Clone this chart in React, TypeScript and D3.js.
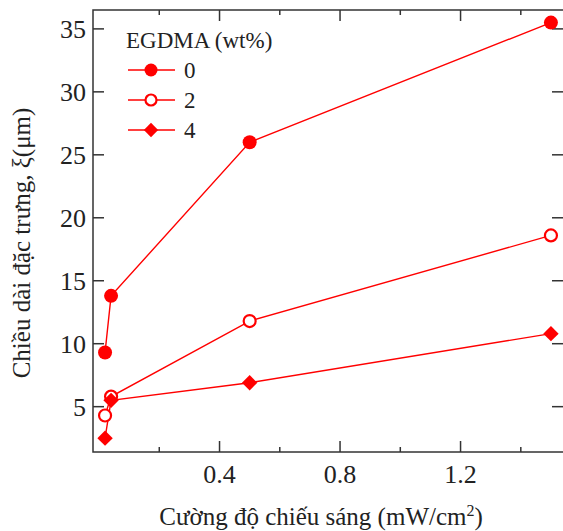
import React, { useRef, useEffect } from "react";
import * as d3 from "d3";

// light intensity (mW/cm2)
const intensity = [0.02, 0.04, 0.5, 1.5];
// correlation length xi (um) per EGDMA content
const egdma0 = [9.3, 13.8, 26.0, 35.5];
const egdma2 = [4.3, 5.8, 11.8, 18.6];
const egdma4 = [2.5, 5.5, 6.9, 10.8];
const seriesNames = ["0", "2", "4"];
const xMajorTicks = [0.4, 0.8, 1.2];
const xMinorTicks = [0.2, 0.6, 1.0, 1.4];
const yTicks = [5, 10, 15, 20, 25, 30, 35];

const RED = "#ff0000";
const AXIS = "#333";
const FONT = "Liberation Serif";

const App = () => {
  const svgRef = useRef(null);

  const drawChart = () => {
    const width = 563;
    const height = 531;
    const left = 93;
    const right = 566;
    const top = 10;
    const bottom = 452;

    const svg = d3.select(svgRef.current);
    svg.selectAll("*").remove();
    svg.attr("width", width).attr("height", height).attr("font-family", FONT);

    const x = d3.scaleLinear().domain([-0.02, 1.55]).range([left, right]);
    const y = d3.scaleLinear().domain([1.4, 36.5]).range([bottom, top]);

    /* frame */
    svg
      .append("rect")
      .attr("x", left)
      .attr("y", top)
      .attr("width", right - left)
      .attr("height", bottom - top)
      .attr("fill", "none")
      .attr("stroke", AXIS)
      .attr("stroke-width", 1.5);

    /* x ticks, bottom and top */
    const xt = svg.append("g").attr("stroke", AXIS).attr("stroke-width", 1.5);
    xMajorTicks.forEach((t) => {
      xt.append("line").attr("x1", x(t)).attr("x2", x(t)).attr("y1", bottom).attr("y2", bottom - 11);
      xt.append("line").attr("x1", x(t)).attr("x2", x(t)).attr("y1", top).attr("y2", top + 11);
    });
    xMinorTicks.forEach((t) => {
      xt.append("line").attr("x1", x(t)).attr("x2", x(t)).attr("y1", bottom).attr("y2", bottom - 5);
      xt.append("line").attr("x1", x(t)).attr("x2", x(t)).attr("y1", top).attr("y2", top + 5);
    });
    svg
      .append("g")
      .selectAll("text")
      .data(xMajorTicks)
      .enter()
      .append("text")
      .attr("x", (d) => x(d))
      .attr("y", 483)
      .attr("text-anchor", "middle")
      .attr("font-size", 26)
      .attr("fill", "#222")
      .text((d) => d3.format(".1f")(d));

    /* y ticks, left and right */
    const yt = svg.append("g").attr("stroke", AXIS).attr("stroke-width", 1.5);
    yTicks.forEach((t) => {
      yt.append("line").attr("x1", left).attr("x2", left + 11).attr("y1", y(t)).attr("y2", y(t));
      yt.append("line").attr("x1", right - 14).attr("x2", right).attr("y1", y(t)).attr("y2", y(t));
    });
    svg
      .append("g")
      .selectAll("text")
      .data(yTicks)
      .enter()
      .append("text")
      .attr("x", 86)
      .attr("y", (d) => y(d))
      .attr("dy", "0.35em")
      .attr("text-anchor", "end")
      .attr("font-size", 26)
      .attr("fill", "#222")
      .text((d) => d);

    /* axis titles */
    const xTitle = svg
      .append("text")
      .attr("x", 321)
      .attr("y", 525)
      .attr("text-anchor", "middle")
      .attr("font-size", 25)
      .attr("fill", "#222");
    xTitle.append("tspan").text("Cường độ chiếu sáng (mW/cm");
    xTitle.append("tspan").attr("dy", -9).attr("font-size", 16).text("2");
    xTitle.append("tspan").attr("dy", 9).text(")");

    svg
      .append("text")
      .attr("transform", "translate(30, 243) rotate(-90)")
      .attr("text-anchor", "middle")
      .attr("font-size", 25)
      .attr("fill", "#222")
      .text("Chiều dài đặc trưng, ξ(μm)");

    /* series */
    const allSeries = [egdma0, egdma2, egdma4];
    const line = d3
      .line<number>()
      .x((d, i) => x(intensity[i]))
      .y((d) => y(d));

    const drawMarker = (g, kind, cx, cy, size) => {
      if (kind === 0) {
        g.append("circle").attr("cx", cx).attr("cy", cy).attr("r", size).attr("fill", RED);
      } else if (kind === 1) {
        g.append("circle")
          .attr("cx", cx)
          .attr("cy", cy)
          .attr("r", size - 1)
          .attr("fill", "white")
          .attr("stroke", RED)
          .attr("stroke-width", 2.2);
      } else {
        const s = size * 1.1;
        g.append("path")
          .attr("transform", `translate(${cx},${cy})`)
          .attr("d", `M0,${-s}L${s},0L0,${s}L${-s},0Z`)
          .attr("fill", RED);
      }
    };

    allSeries.forEach((vals) => {
      svg
        .append("path")
        .datum(vals)
        .attr("fill", "none")
        .attr("stroke", RED)
        .attr("stroke-width", 1.4)
        .attr("d", line);
    });
    allSeries.forEach((vals, k) => {
      const g = svg.append("g");
      vals.forEach((v, i) => drawMarker(g, k, x(intensity[i]), y(v), 7));
    });

    /* legend */
    const lg = svg.append("g");
    lg.append("text")
      .attr("x", 126)
      .attr("y", 48)
      .attr("font-size", 23)
      .attr("fill", "#222")
      .text("EGDMA (wt%)");
    seriesNames.forEach((name, k) => {
      const cy = 70 + k * 30;
      lg.append("line")
        .attr("x1", 128)
        .attr("x2", 175)
        .attr("y1", cy)
        .attr("y2", cy)
        .attr("stroke", RED)
        .attr("stroke-width", 1.4);
      drawMarker(lg, k, 151, cy, 6.5);
      lg.append("text")
        .attr("x", 184)
        .attr("y", cy)
        .attr("dy", "0.35em")
        .attr("font-size", 23)
        .attr("fill", "#222")
        .text(name);
    });
  };

  useEffect(() => {
    drawChart();
  }, []);

  return (
    <div style={{ position: "absolute", left: 0, top: 0 }}>
      <svg ref={svgRef} style={{ display: "block" }} />
    </div>
  );
};

export default App;
